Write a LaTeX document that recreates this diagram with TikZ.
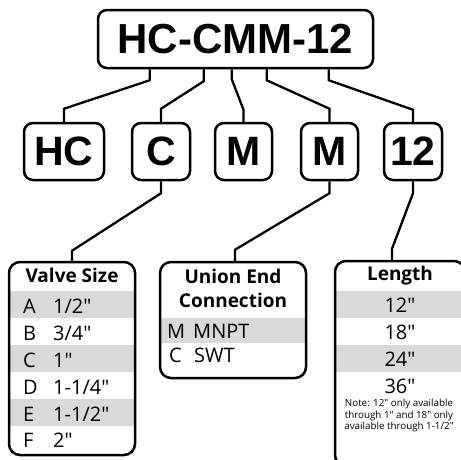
\documentclass[tikz,border=0pt]{standalone}
\usepackage{fontspec}
\setmainfont{Open Sans}[Ligatures=TeXOff]
\newfontfamily\codefont{Liberation Sans}
\definecolor{rowgray}{rgb}{0.85, 0.85, 0.85}
\tikzset{conn/.style={line width=2.3pt, color=black}}
\tikzset{codebox/.style={draw, line width=2.5pt, rounded corners=9pt, inner sep=0pt,
  font=\codefont\bfseries\fontsize{41}{41}\selectfont}}
\tikzset{tablebox/.style={draw, line width=2.5pt, rounded corners=11pt, inner sep=0pt}}
\tikzset{cell/.style={inner sep=0pt, anchor=base west, font=\fontsize{20}{20}\selectfont}}
\tikzset{val/.style={inner sep=0pt, anchor=base, font=\fontsize{20}{20}\selectfont}}
\tikzset{head/.style={inner sep=0pt, anchor=base, font=\bfseries\fontsize{19}{19}\selectfont}}

\begin{document}
\begin{tikzpicture}[x=1pt, y=-1pt]
    \useasboundingbox (0,0) rectangle (461,459);
    \clip (0,0) rectangle (461,459);

    % code and its parts
    \node[codebox, minimum width=275pt, minimum height=58pt, font=\codefont\bfseries\fontsize{42}{42}\selectfont]
      (code) at (235.5, 39) {HC-CMM-12};
    \node[codebox, minimum width=80pt, minimum height=57pt] (hc)  at (64,    151.5) {HC};
    \node[codebox, minimum width=58pt, minimum height=57pt] (c)   at (161,   151.5) {C};
    \node[codebox, minimum width=57pt, minimum height=57pt] (m1)  at (243.5, 151.5) {M};
    \node[codebox, minimum width=57pt, minimum height=57pt] (m2)  at (329.5, 151.5) {M};
    \node[codebox, minimum width=58pt, minimum height=57pt] (n12) at (413,   151.5) {12};

    \draw [conn] ([xshift=53pt]code.south west)  -- ++(0,11) -- ([yshift=13pt]hc.north)  -- (hc.north);
    \draw [conn] ([xshift=107pt]code.south west) -- ++(0,12) -- ([yshift=13pt]c.north)   -- (c.north);
    \draw [conn] ([xshift=135pt]code.south west) -- ++(0,10) -- ([yshift=12pt]m1.north)  -- (m1.north);
    \draw [conn] ([xshift=170pt]code.south west) -- ++(0,11) -- ([yshift=13pt]m2.north)  -- (m2.north);
    \draw [conn] ([xshift=232pt]code.south west) -- ++(0,11) -- ([yshift=12pt]n12.north) -- (n12.north);

    % shaded rows
    \fill [rowgray] (10,291) rectangle (134,318);
    \fill [rowgray] (10,345) rectangle (134,372);
    \fill [rowgray] (10,399) rectangle (134,426);
    \fill [rowgray] (161,318) rectangle (305,343);
    \fill [rowgray] (336,291) rectangle (464,318);
    \fill [rowgray] (336,345) rectangle (464,372);

    % tables
    \node[tablebox, minimum width=126pt, minimum height=193pt] (valve)  at (72,  358.5) {};
    \node[tablebox, minimum width=146pt, minimum height=116pt] (union)  at (233, 320)   {};
    \node[tablebox, minimum width=130pt, minimum height=205pt] (length) at (400, 363.5) {};

    \draw [conn] (c.south)   -- ++(0,12) -- ([yshift=10pt]valve.north) -- (valve.north);
    \draw [conn] (m2.south)  -- ++(0,12) -- ([xshift=2pt, yshift=11pt]union.north) -- ([xshift=2pt]union.north);
    \draw [conn] (n12.south) -- ++(0,12) -- ([xshift=-8pt, yshift=11pt]length.north) -- ([xshift=-8pt]length.north);

    % valve size
    \node[head] (vhead) at (72, 282) {Valve Size};
    \node[cell] (va) at (23, 313) {A};   \node[cell] (vav) at (53, 313) {1/2"};
    \node[cell] (vb) at (23, 340) {B};   \node[cell] (vbv) at (53, 340) {3/4"};
    \node[cell] (vc) at (23, 367) {C};   \node[cell] (vcv) at (53, 367) {1"};
    \node[cell] (vd) at (23, 394) {D};   \node[cell] (vdv) at (53, 394) {1-1/4"};
    \node[cell] (ve) at (23, 421) {E};   \node[cell] (vev) at (53, 421) {1-1/2"};
    \node[cell] (vf) at (23, 447) {F};   \node[cell] (vfv) at (53, 447) {2"};

    % union end connection
    \node[head] (uhead1) at (233, 283) {Union End};
    \node[head] (uhead2) at (233, 307) {Connection};
    \node[cell] (um) at (167, 338) {M};  \node[cell] (umv) at (193, 338) {MNPT};
    \node[cell] (uc) at (169, 362) {C};  \node[cell] (ucv) at (194, 362) {SWT};

    % length
    \node[head] (lhead) at (400, 280) {Length};
    \node[val] (l12) at (400, 312) {12"};
    \node[val] (l18) at (400, 339) {18"};
    \node[val] (l24) at (400, 366) {24"};
    \node[val] (l36) at (400, 393) {36"};
    \node[inner sep=0pt, anchor=north, align=center, font=\fontsize{9.8}{11.6}\selectfont] (note) at (399, 399)
      {Note: 12" only available\\through 1" and 18" only\\available through 1-1/2"};
\end{tikzpicture}
\end{document}
